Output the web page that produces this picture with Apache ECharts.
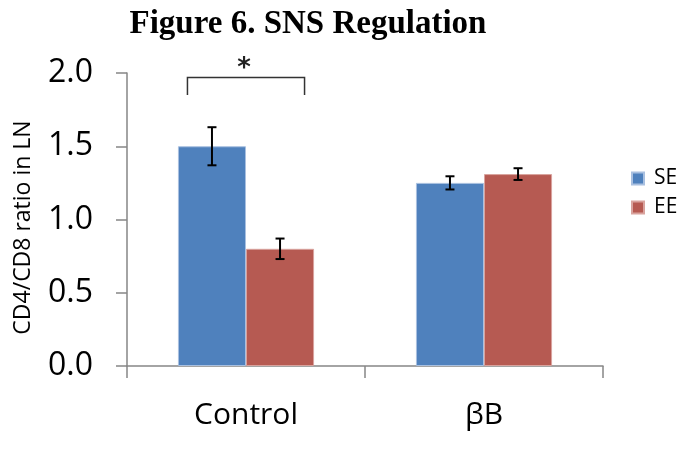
<!DOCTYPE html>
<html>
<head>
<meta charset="utf-8">
<script src="https://cdn.jsdelivr.net/npm/echarts@6/dist/echarts.min.js"></script>
<style>
  html, body { margin: 0; padding: 0; background: #fff; }
  #chart { width: 680px; height: 465px; }
</style>
</head>
<body>
<div id="chart"></div>
<script>
// Groups along the x axis
const categories = ['Control', 'βB'];
// Mean CD4/CD8 ratio per group
const seValues = [1.50, 1.25];
const eeValues = [0.80, 1.31];
// Error bar half-widths
const seErrors = [0.13, 0.045];
const eeErrors = [0.07, 0.04];
// Y axis ticks
const yTicks = [0.0, 0.5, 1.0, 1.5, 2.0];
// Significance bracket: group index, bracket top, leg bottom, label
const sigGroup = 0;
const sigTop = 1.97;
const sigLeg = 1.85;
const sigLabel = '*';

const seColor = '#4F81BD';
const eeColor = '#B65A52';
const axisColor = '#868686';
const sansFont = '"Open Sans", "Noto Sans", sans-serif';

const barWidthPct = 0.286; // of category band

const chart = echarts.init(document.getElementById('chart'), null, { renderer: 'canvas' });

// Error bar series: offset bar index (0 = SE, 1 = EE)
function errorSeries(values, errors, idx) {
  const data = values.map((v, i) => [i, v, errors[i]]);
  return {
    type: 'custom',
    name: 'err' + idx,
    z: 10,
    silent: true,
    renderItem: function (params, api) {
      const ci = api.value(0);
      const v = api.value(1);
      const e = api.value(2);
      const band = api.size([1, 0])[0];
      const bw = band * barWidthPct;
      const center = api.coord([ci, 0])[0];
      const x = center + (idx === 0 ? -bw / 2 : bw / 2);
      const top = api.coord([ci, v + e])[1];
      const bot = api.coord([ci, v - e])[1];
      const cap = 4.5;
      const style = { stroke: '#000', lineWidth: 2 };
      return {
        type: 'group',
        children: [
          { type: 'line', shape: { x1: x, y1: top, x2: x, y2: bot }, style: style },
          { type: 'line', shape: { x1: x - cap, y1: top, x2: x + cap, y2: top }, style: style },
          { type: 'line', shape: { x1: x - cap, y1: bot, x2: x + cap, y2: bot }, style: style }
        ]
      };
    },
    data: data
  };
}

const option = {
  animation: false,
  backgroundColor: '#fff',
  title: {
    text: 'Figure 6. SNS Regulation',
    left: 303,
    textAlign: 'center',
    top: 3,
    textStyle: {
      fontFamily: '"Liberation Serif", "DejaVu Serif", serif',
      fontWeight: 'bold',
      fontSize: 33,
      color: '#000'
    }
  },
  legend: {
    data: ['SE', 'EE'],
    orient: 'vertical',
    left: 626,
    top: 163,
    itemWidth: 12,
    itemHeight: 12,
    itemGap: 8,
    icon: 'rect',
    textStyle: { fontFamily: sansFont, fontSize: 21, color: '#000', padding: [0, 0, 0, 5] }
  },
  grid: { left: 127, right: 77, top: 73, bottom: 99, containLabel: false, outerBoundsMode: 'none' },
  xAxis: {
    type: 'category',
    data: categories,
    axisLine: { lineStyle: { color: axisColor, width: 1.5 } },
    axisTick: { show: true, length: 12, lineStyle: { color: axisColor, width: 1.5 } },
    axisLabel: { fontFamily: sansFont, fontSize: 30, color: '#000', margin: 34 }
  },
  yAxis: {
    type: 'value',
    min: yTicks[0],
    max: yTicks[yTicks.length - 1],
    interval: 0.5,
    name: 'CD4/CD8 ratio in LN',
    nameLocation: 'middle',
    nameGap: 92,
    nameTextStyle: { fontFamily: sansFont, fontSize: 23, color: '#000', padding: [0, 16, 0, 0] },
    axisLine: { show: true, lineStyle: { color: axisColor, width: 1.5 } },
    axisTick: { show: true, length: 11, lineStyle: { color: axisColor, width: 1.5 } },
    splitLine: { show: false },
    axisLabel: {
      fontFamily: sansFont,
      fontSize: 32,
      color: '#000',
      margin: 34,
      formatter: v => v.toFixed(1)
    }
  },
  series: [
    {
      name: 'SE',
      type: 'bar',
      data: seValues,
      barWidth: (barWidthPct * 100) + '%',
      barGap: '0%',
      itemStyle: { color: seColor, borderColor: '#A9C0E0', borderWidth: 1 }
    },
    {
      name: 'EE',
      type: 'bar',
      data: eeValues,
      barWidth: (barWidthPct * 100) + '%',
      barGap: '0%',
      itemStyle: { color: eeColor, borderColor: '#D9A39E', borderWidth: 1 }
    },
    errorSeries(seValues, seErrors, 0),
    errorSeries(eeValues, eeErrors, 1),
    {
      // significance bracket above the Control pair
      type: 'custom',
      z: 10,
      silent: true,
      renderItem: function (params, api) {
        const ci = api.value(0);
        const band = api.size([1, 0])[0];
        const center = api.coord([ci, 0])[0];
        const half = band * 0.246;
        const yTop = api.coord([ci, api.value(1)])[1];
        const yLeg = api.coord([ci, api.value(2)])[1];
        const style = { stroke: '#333', lineWidth: 1.5, fill: null };
        return {
          type: 'group',
          children: [
            {
              type: 'polyline',
              shape: { points: [[center - half, yLeg], [center - half, yTop], [center + half, yTop], [center + half, yLeg]] },
              style: style
            },
            {
              type: 'text',
              style: {
                text: sigLabel,
                x: center - 2,
                y: yTop + 4.5,
                textAlign: 'center',
                textVerticalAlign: 'bottom',
                font: 'bold 26px "DejaVu Sans", sans-serif',
                fill: '#222'
              }
            }
          ]
        };
      },
      data: [[sigGroup, sigTop, sigLeg]]
    }
  ]
};

chart.setOption(option);
</script>
</body>
</html>
